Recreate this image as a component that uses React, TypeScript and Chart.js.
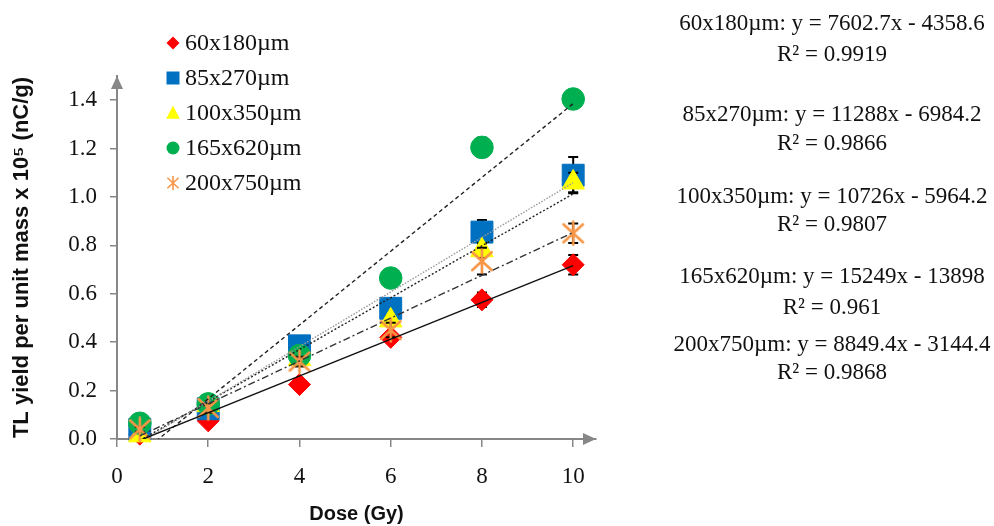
import React, { useEffect, useRef } from "react";
import { Chart, registerables } from "chart.js";

Chart.register(...registerables);

// ---------------- data ----------------
const doses = [0.5, 2, 4, 6, 8, 10];
const seriesNames = ["60x180µm", "85x270µm", "100x350µm", "165x620µm", "200x750µm"];

const yield60x180 = [0.02, 0.075, 0.225, 0.42, 0.575, 0.72];
const yield85x270 = [0.04, 0.125, 0.385, 0.54, 0.855, 1.09];
const yield100x350 = [0.015, 0.14, 0.33, 0.49, 0.78, 1.06];
const yield165x620 = [0.065, 0.145, 0.345, 0.665, 1.205, 1.405];
const yield200x750 = [0.04, 0.128, 0.32, 0.45, 0.735, 0.85];

const err60x180 = [0.01, 0.01, 0.02, 0.02, 0.03, 0.04];
const err85x270 = [0.01, 0.02, 0.03, 0.03, 0.05, 0.075];
const err100x350 = [0.01, 0.01, 0.02, 0.02, 0.03, 0.04];
const err165x620 = [0.01, 0.02, 0.02, 0.03, 0.04, 0.03];
const err200x750 = [0.01, 0.02, 0.02, 0.03, 0.055, 0.04];

const trendSlopes = [7602.7, 11288, 10726, 15249, 8849.4];
const trendIntercepts = [-4358.6, -6984.2, -5964.2, -13898, -3144.4];
const trendR2 = ["0.9919", "0.9866", "0.9807", "0.961", "0.9868"];
const trendUnit = 1e5;

const yMin = 0;
const yMax = 1.5;
const yStep = 0.2;
const xMin = 0;
const xMax = 10.5;
const xStep = 2;

const yTitle = "TL yield per unit mass x 10⁵ (nC/g)";
const xTitle = "Dose (Gy)";

// ---------------- styles ----------------
const seriesValues = [yield60x180, yield85x270, yield100x350, yield165x620, yield200x750];
const seriesErrors = [err60x180, err85x270, err100x350, err165x620, err200x750];

const markerColors = ["#FF0000", "#0070C0", "#FFFF00", "#00B050", "#F79646"];
const markerShapes = ["rectRot", "rect", "triangle", "circle", "asterisk"];
const markerRadii = [11, 15.5, 13, 11.3, 12];
const markerOrder = [4, 3, 2, 1, 0];

const trendColors = ["#111111", "#9a9a9a", "#222222", "#222222", "#333333"];
const trendDashes = [[], [1.5, 1.5], [2, 2], [4, 3], [7, 3, 2, 3]];

const AXIS_COLOR = "#878787";
const TEXT_COLOR = "#111111";
const SERIF = "'Liberation Serif', 'Times New Roman', serif";
const SANS = "'Liberation Sans', Arial, sans-serif";

const LEGEND_MARK_X = 173;
const LEGEND_TEXT_X = 185;
const LEGEND_TOP = 43;
const LEGEND_STEP = 35;

const EQ_CENTER_X = 832;
const EQ_ROWS = [
  [24, 55],
  [115, 144],
  [197, 225],
  [277, 308],
  [345, 373],
];

function makeAsterisk(size: number, color: string): HTMLCanvasElement {
  const c = document.createElement("canvas");
  c.width = size;
  c.height = size;
  const g = c.getContext("2d")!;
  const m = size / 2;
  const r = size / 2 - 1.5;
  g.strokeStyle = color;
  g.lineWidth = 2.6;
  g.lineCap = "round";
  g.beginPath();
  g.moveTo(m, m - r);
  g.lineTo(m, m + r);
  g.moveTo(m - r * 0.85, m - r * 0.78);
  g.lineTo(m + r * 0.85, m + r * 0.78);
  g.moveTo(m + r * 0.85, m - r * 0.78);
  g.lineTo(m - r * 0.85, m + r * 0.78);
  g.stroke();
  return c;
}

function drawShape(ctx: CanvasRenderingContext2D, shape: string, x: number, y: number, r: number, color: string) {
  ctx.save();
  ctx.fillStyle = color;
  ctx.strokeStyle = color;
  ctx.beginPath();
  if (shape === "rectRot") {
    ctx.moveTo(x, y - r);
    ctx.lineTo(x + r, y);
    ctx.lineTo(x, y + r);
    ctx.lineTo(x - r, y);
    ctx.closePath();
    ctx.fill();
  } else if (shape === "rect") {
    ctx.rect(x - r, y - r, 2 * r, 2 * r);
    ctx.fill();
  } else if (shape === "triangle") {
    ctx.moveTo(x, y - r);
    ctx.lineTo(x + r * 0.9, y + r * 0.75);
    ctx.lineTo(x - r * 0.9, y + r * 0.75);
    ctx.closePath();
    ctx.fill();
  } else if (shape === "circle") {
    ctx.arc(x, y, r, 0, Math.PI * 2);
    ctx.fill();
  } else {
    ctx.lineWidth = 1.6;
    ctx.moveTo(x, y - r);
    ctx.lineTo(x, y + r);
    ctx.moveTo(x - r * 0.8, y - r * 0.75);
    ctx.lineTo(x + r * 0.8, y + r * 0.75);
    ctx.moveTo(x + r * 0.8, y - r * 0.75);
    ctx.lineTo(x - r * 0.8, y + r * 0.75);
    ctx.stroke();
  }
  ctx.restore();
}

const decorPlugin = {
  id: "decor",
  beforeDatasetDraw(chart: any, args: any) {
    const ds: any = chart.data.datasets[args.index];
    if (!ds.errors) return;
    const { ctx } = chart;
    const xs = chart.scales.x;
    const ys = chart.scales.y;
    ctx.save();
    ctx.strokeStyle = "#000";
    ctx.lineWidth = 2;
    ds.data.forEach((p: any, i: number) => {
      const e = ds.errors[i];
      if (!e) return;
      const px = xs.getPixelForValue(p.x);
      const t = ys.getPixelForValue(p.y + e);
      const b = ys.getPixelForValue(p.y - e);
      ctx.beginPath();
      ctx.moveTo(px, t);
      ctx.lineTo(px, b);
      ctx.moveTo(px - 5, t);
      ctx.lineTo(px + 5, t);
      ctx.moveTo(px - 5, b);
      ctx.lineTo(px + 5, b);
      ctx.stroke();
    });
    ctx.restore();
  },
  afterDraw(chart: any) {
    const { ctx, chartArea } = chart;
    ctx.save();
    // axis arrowheads
    ctx.fillStyle = AXIS_COLOR;
    const lx = chartArea.left;
    const ty = chartArea.top;
    ctx.beginPath();
    ctx.moveTo(lx, ty);
    ctx.lineTo(lx + 6, ty + 13);
    ctx.lineTo(lx - 6, ty + 13);
    ctx.closePath();
    ctx.fill();
    const rx = chartArea.right;
    const by = chartArea.bottom;
    ctx.beginPath();
    ctx.moveTo(rx, by);
    ctx.lineTo(rx - 13, by - 6);
    ctx.lineTo(rx - 13, by + 6);
    ctx.closePath();
    ctx.fill();

    // legend
    const legendR = [6.5, 6.5, 7.5, 6.5, 7];
    ctx.font = `24px ${SERIF}`;
    ctx.textAlign = "left";
    ctx.textBaseline = "middle";
    seriesNames.forEach((name, i) => {
      const y = LEGEND_TOP + i * LEGEND_STEP;
      drawShape(ctx, markerShapes[i], LEGEND_MARK_X, y, legendR[i], markerColors[i]);
      ctx.fillStyle = TEXT_COLOR;
      ctx.fillText(name, LEGEND_TEXT_X, y + 1);
    });

    // equations
    ctx.font = `23px ${SERIF}`;
    ctx.textAlign = "center";
    ctx.fillStyle = TEXT_COLOR;
    seriesNames.forEach((name, i) => {
      const [y1, y2] = EQ_ROWS[i];
      const ic = trendIntercepts[i];
      const eq = `${name}: y = ${trendSlopes[i]}x ${ic < 0 ? "-" : "+"} ${Math.abs(ic)}`;
      ctx.fillText(eq, EQ_CENTER_X, y1);
      ctx.fillText(`R² = ${trendR2[i]}`, EQ_CENTER_X, y2);
    });
    ctx.restore();
  },
};

export default function App() {
  const ref = useRef<HTMLCanvasElement>(null);

  useEffect(() => {
    document.body.style.margin = "0";
    const asterisk = makeAsterisk(26, markerColors[4]);

    const markerSets = seriesNames.map((name, i) => ({
      type: "scatter" as const,
      label: name,
      data: doses.map((d, j) => ({ x: d, y: seriesValues[i][j] })),
      errors: seriesErrors[i],
      pointStyle: markerShapes[i] === "asterisk" ? asterisk : markerShapes[i],
      pointRadius: markerRadii[i],
      pointBackgroundColor: markerColors[i],
      pointBorderColor: markerColors[i],
      pointBorderWidth: 1,
      showLine: false,
      clip: false,
      order: markerOrder[i],
    }));

    const trendSets = seriesNames.map((name, i) => {
      const x0 = doses[0];
      const x1 = doses[doses.length - 1];
      return {
        type: "line" as const,
        label: name + " trend",
        data: [
          { x: x0, y: (trendSlopes[i] * x0 + trendIntercepts[i]) / trendUnit },
          { x: x1, y: (trendSlopes[i] * x1 + trendIntercepts[i]) / trendUnit },
        ],
        borderColor: trendColors[i],
        borderWidth: 1.4,
        borderDash: trendDashes[i],
        pointRadius: 0,
        fill: false,
        order: -1,
      };
    });

    const chart = new Chart(ref.current!, {
      type: "scatter",
      data: { datasets: [...markerSets, ...trendSets] as any },
      plugins: [decorPlugin],
      options: {
        animation: false,
        responsive: false,
        devicePixelRatio: 1,
        layout: { padding: { left: 0, top: 76, right: 398, bottom: 0 } },
        plugins: {
          legend: { display: false },
          tooltip: { enabled: false },
          title: { display: false },
        },
        scales: {
          x: {
            type: "linear",
            min: xMin,
            max: xMax,
            afterFit: (s: any) => {
              s.height = 87;
            },
            border: { display: true, color: AXIS_COLOR, width: 2 },
            grid: {
              drawOnChartArea: false,
              drawTicks: true,
              tickLength: 8,
              color: AXIS_COLOR,
              lineWidth: 1.5,
            },
            ticks: {
              stepSize: xStep,
              includeBounds: false,
              color: TEXT_COLOR,
              padding: 16,
              font: { family: SERIF, size: 23 },
              callback: (v: any) => String(v),
            },
            title: {
              display: true,
              text: xTitle,
              color: TEXT_COLOR,
              font: { family: SANS, size: 20, weight: "bold" },
              padding: { top: 0, bottom: 0 },
            },
          },
          y: {
            type: "linear",
            min: yMin,
            max: yMax,
            afterFit: (s: any) => {
              s.width = 117;
            },
            border: { display: true, color: AXIS_COLOR, width: 2 },
            grid: {
              drawOnChartArea: false,
              drawTicks: true,
              tickLength: 7,
              color: AXIS_COLOR,
              lineWidth: 1.5,
            },
            ticks: {
              stepSize: yStep,
              includeBounds: false,
              color: TEXT_COLOR,
              padding: 13,
              font: { family: SERIF, size: 23 },
              callback: (v: any) => Number(v).toFixed(1),
            },
            title: {
              display: true,
              text: yTitle,
              color: TEXT_COLOR,
              font: { family: SANS, size: 22, weight: "bold" },
              padding: { top: 9, bottom: 0 },
            },
          },
        },
      } as any,
    });
    return () => chart.destroy();
  }, []);

  return (
    <div style={{ position: "absolute", left: 0, top: 0, width: 994, height: 526, background: "#fff" }}>
      <canvas ref={ref} width={994} height={526} style={{ width: 994, height: 526, display: "block" }} />
    </div>
  );
}
